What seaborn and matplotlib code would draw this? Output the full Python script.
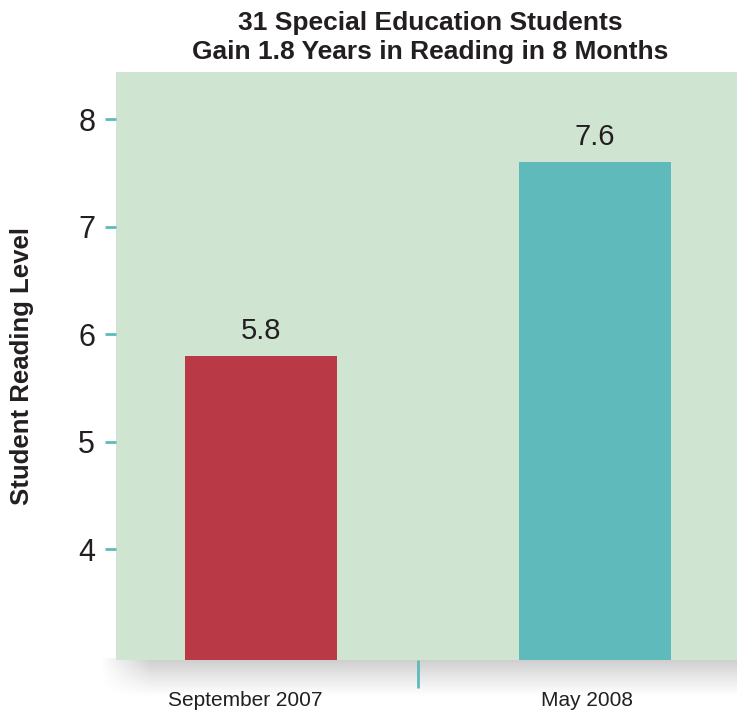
import numpy as np
import pandas as pd
import matplotlib
matplotlib.use("Agg")
import matplotlib.pyplot as plt
import seaborn as sns

# Data
periods = ["September 2007", "May 2008"]
reading_levels = [5.8, 7.6]
bar_colors = ["#b93a46", "#5fbabb"]
y_ticks = [4, 5, 6, 7, 8]

title_text = "31 Special Education Students\nGain 1.8 Years in Reading in 8 Months"
y_label = "Student Reading Level"

sns.set_theme(style="white")
plt.rcParams["font.family"] = ["Liberation Sans", "DejaVu Sans"]

W, H = 737, 710
fig = plt.figure(figsize=(W / 100, H / 100), dpi=100)

def px_axes(x0, y0, x1, y1, **kw):
    # axes placed by pixel box (top-left origin)
    return fig.add_axes([x0 / W, 1 - y1 / H, (x1 - x0) / W, (y1 - y0) / H], **kw)

# soft drop shadow under the plot panel
sh = px_axes(100, 658, 737, 698, zorder=1)
ny, nx = 60, 400
v = np.linspace(0, 1, ny)
vert = np.clip(1 - v, 0, 1) ** 1.2
xs = np.linspace(0, 1, nx)
horiz = np.clip(xs / 0.08, 0, 1)
alpha = (vert[:, None] * horiz[None, :]) * 0.22
rgba = np.zeros((ny, nx, 4))
rgba[..., :3] = 0.05
rgba[..., 3] = alpha
sh.imshow(rgba, aspect="auto", extent=[0, 1, 0, 1], origin="upper")
sh.set_axis_off()

ax = px_axes(116, 72, 737, 660, zorder=2)
ax.set_facecolor("#cfe5d1")

df = pd.DataFrame({"period": periods, "level": reading_levels})
sns.barplot(data=df, x="period", y="level", hue="period", palette=bar_colors,
            width=0.455, legend=False, ax=ax, saturation=1, linewidth=0)

for c in ax.containers:
    ax.bar_label(c, fmt="%.1f", padding=8, fontsize=21, color="#231f20")

ax.set_ylim(2.97, 8.44)
ax.set_xlim(-0.434, 1.425)
ax.set_yticks(y_ticks)
ax.set_yticklabels([str(t) for t in y_ticks], fontsize=22, color="#231f20")
ax.tick_params(axis="y", left=True, length=8, width=2, color="#5fbabb", pad=7)

# category captions sit slightly left of the bar centres
ax.set_xticks([-0.048, 0.976])
ax.set_xticklabels(periods, fontsize=15, color="#231f20")
ax.set_xticks([0.47], minor=True)
ax.tick_params(axis="x", which="major", bottom=False, length=0, pad=22)
ax.tick_params(axis="x", which="minor", bottom=True, length=20, width=2,
               color="#5fbabb", direction="out")

for s in ax.spines.values():
    s.set_visible(False)

ax.set_xlabel("")
ax.set_ylabel(y_label, fontsize=18.5, fontweight="bold", color="#231f20")
ax.yaxis.set_label_coords(-0.132, 0.5)
ax.set_title(title_text, fontsize=19, fontweight="bold", color="#231f20",
             pad=9.5, linespacing=1.27, x=0.506)

fig.savefig("out.png", dpi=100)
